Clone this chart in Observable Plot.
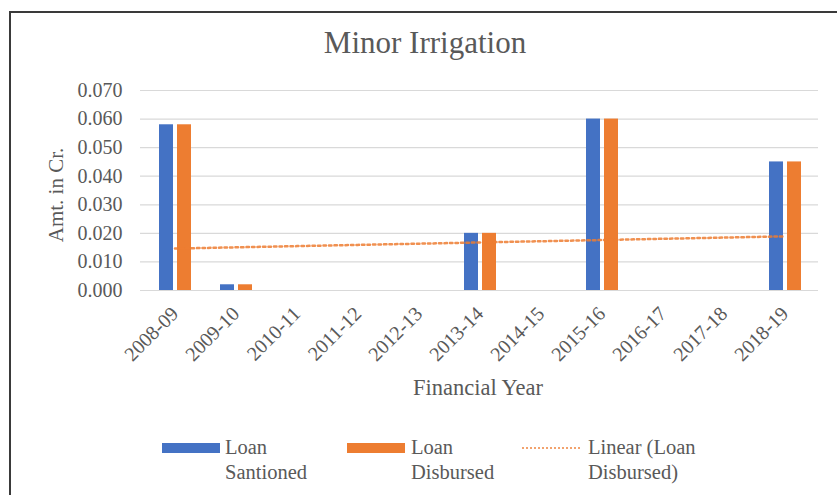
<!DOCTYPE html>
<html>
<head>
<meta charset="utf-8">
<script src="https://cdn.jsdelivr.net/npm/d3@7"></script>
<script src="https://cdn.jsdelivr.net/npm/@observablehq/plot@0.6"></script>
<style>
  html, body { margin: 0; padding: 0; background: #fff; width: 837px; height: 495px; overflow: hidden; }
  body { position: relative; font-family: "Liberation Serif", "Times New Roman", serif; color: #595959; }
  #frame { position: absolute; left: 9px; top: 11px; width: 900px; height: 600px; border-left: 2px solid #3a3a3a; border-top: 2px solid #3a3a3a; }
  #title { position: absolute; left: 0; width: 850px; top: 25px; text-align: center; font-size: 31px; line-height: 36px; color: #595959; font-family: "Liberation Serif", serif; }
  #chart { position: absolute; left: 0; top: 70px; }
  #ylabel { position: absolute; left: 56px; top: 195px; transform: translate(-50%, -50%) rotate(-90deg); font-size: 21px; white-space: nowrap; font-family: "Liberation Serif", serif; }
  #xlabel { position: absolute; left: 478px; top: 376px; transform: translateX(-50%); font-size: 22.5px; line-height: 24px; white-space: nowrap; font-family: "Liberation Serif", serif; }
  .lg { position: absolute; font-family: "Liberation Serif", "Times New Roman", serif; font-size: 20.5px; line-height: 25px; color: #595959; }
  .sw { position: absolute; }
</style>
</head>
<body>
<div id="frame"></div>
<div id="title">Minor Irrigation</div>
<div id="chart"></div>
<div id="ylabel">Amt. in Cr.</div>
<div id="xlabel">Financial Year</div>
<div id="legend"></div>
<script>
const years = ["2008-09","2009-10","2010-11","2011-12","2012-13","2013-14","2014-15","2015-16","2016-17","2017-18","2018-19"];
const sanctioned = [0.058, 0.002, 0, 0, 0, 0.020, 0, 0.060, 0, 0, 0.045];
const disbursed  = [0.058, 0.002, 0, 0, 0, 0.020, 0, 0.060, 0, 0, 0.045];
const yTicks = [0, 0.01, 0.02, 0.03, 0.04, 0.05, 0.06, 0.07];
const colors = ["#4472C4", "#ED7D31"];

const data = years.map((year, i) => ({year, sanctioned: sanctioned[i], disbursed: disbursed[i]}));

// Linear trendline (least squares) of Loan Disbursed over category index
const n = disbursed.length;
const xs = d3.range(1, n + 1);
const mx = d3.mean(xs), my = d3.mean(disbursed);
const slope = d3.sum(xs, (x, i) => (x - mx) * (disbursed[i] - my)) / d3.sum(xs, x => (x - mx) ** 2);
const icpt = my - slope * mx;
const trend = years.map((year, i) => ({year, value: icpt + slope * xs[i]}));

const chart = Plot.plot({
  width: 837,
  height: 330,
  marginLeft: 140,
  marginRight: 19,
  marginTop: 20,
  marginBottom: 110,
  style: {fontFamily: "'Liberation Serif', 'Times New Roman', serif", fontSize: "20px", color: "#595959", background: "transparent"},
  x: {domain: years, padding: 0, tickRotate: -45, tickSize: 0, tickPadding: 20, label: null},
  y: {domain: [0, 0.07], ticks: yTicks, tickFormat: d3.format(".3f"), tickSize: 0, tickPadding: 18, label: null},
  marks: [
    Plot.ruleY(yTicks, {stroke: "#d9d9d9", strokeWidth: 1.2}),
    Plot.barY(data, {x: "year", y: "sanctioned", fill: colors[0], insetLeft: 15, insetRight: 32}),
    Plot.barY(data, {x: "year", y: "disbursed", fill: colors[1], insetLeft: 33, insetRight: 14}),
    Plot.line(trend, {x: "year", y: "value", stroke: colors[1], strokeOpacity: 0.85, strokeWidth: 2.5, strokeDasharray: "2.5,3"})
  ]
});
document.getElementById("chart").appendChild(chart);

// Legend
const legend = document.getElementById("legend");
const items = [
  {sx: 162, tx: 225, kind: "bar", color: colors[0], lines: ["Loan", "Santioned"]},
  {sx: 347, tx: 411, kind: "bar", color: colors[1], lines: ["Loan", "Disbursed"]},
  {sx: 522, tx: 588, kind: "line", color: colors[1], lines: ["Linear (Loan", "Disbursed)"]}
];
items.forEach(it => {
  const sw = document.createElement("div");
  sw.className = "sw";
  sw.style.left = it.sx + "px";
  sw.style.width = "58px";
  if (it.kind === "bar") {
    sw.style.top = "443px";
    sw.style.height = "10px";
    sw.style.background = it.color;
  } else {
    sw.style.top = "447px";
    sw.style.height = "0px";
    sw.style.borderTop = "2px dotted " + it.color;
    sw.style.opacity = "0.7";
  }
  legend.appendChild(sw);
  const t = document.createElement("div");
  t.className = "lg";
  t.style.left = it.tx + "px";
  t.style.top = "435px";
  t.style.fontFamily = "'Liberation Serif', serif";
  t.innerHTML = it.lines.join("<br>");
  legend.appendChild(t);
});
</script>
</body>
</html>
